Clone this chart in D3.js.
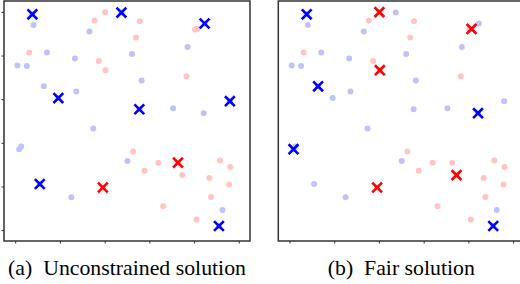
<!DOCTYPE html>
<html>
<head>
<meta charset="utf-8">
<script src="https://d3js.org/d3.v7.min.js"></script>
<style>
  body { margin: 0; background: #fff; }
</style>
</head>
<body>
<svg width="520" height="284"></svg>
<script>
// group A (blue) points, [x, y] in the unit square
var blueX = [0.082, 0.475, 0.332, 0.142, 0.522, 0.267, 0.010, 0.052, 0.128, 0.193, 0.273, 0.847, 0.771, 0.565,
             0.960, 0.555, 0.706, 0.843, 0.349, 0.018, 0.027, 0.502, 0.110, 0.251, 0.927, 0.911, 0.077];
var blueY = [0.940, 0.997, 0.910, 0.814, 0.807, 0.786, 0.754, 0.752, 0.659, 0.605, 0.635, 0.947, 0.839, 0.686,
             0.591, 0.554, 0.558, 0.536, 0.466, 0.371, 0.383, 0.317, 0.211, 0.151, 0.092, 0.019, 0.989];
// group B (red) points
var redX = [0.402, 0.355, 0.063, 0.374, 0.404, 0.557, 0.540, 0.804, 0.814, 0.766, 0.527, 0.640, 0.728, 0.578,
            0.747, 0.916, 0.962, 0.868, 0.957, 0.876, 0.662, 0.811, 0.392];
var redY = [0.999, 0.961, 0.814, 0.775, 0.733, 0.957, 0.883, 0.919, 0.922, 0.705, 0.360, 0.309, 0.309, 0.272,
            0.252, 0.319, 0.289, 0.239, 0.209, 0.152, 0.109, 0.048, 0.195];

// chosen centres, as indices into the point lists
var centersA = { blue: [26, 1, 11, 9, 14, 15, 22, 25], red: [12, 22] };
var centersB = { blue: [26, 8, 19, 17, 25], red: [0, 4, 8, 14, 22] };

var captions = ["(a)  Unconstrained solution", "(b)  Fair solution"];
var ticks = [0, 0.2, 0.4, 0.6, 0.8, 1.0];

var blue = blueX.map(function(x, i) { return [x, blueY[i]]; });
var red = redX.map(function(x, i) { return [x, redY[i]]; });

var svg = d3.select("svg");
svg.append("rect").attr("width", 520).attr("height", 284).attr("fill", "#fff");

var panelW = 246, panelH = 240, panelTop = 1;
var lefts = [4, 278.3];

function drawPanel(left, centers, caption, showY) {
  var x = d3.scaleLinear().domain([-0.05, 1.05]).range([left, left + panelW]);
  var y = d3.scaleLinear().domain([-0.05, 1.05]).range([panelTop + panelH, panelTop]);
  var g = svg.append("g");

  g.selectAll(".pb").data(blue).enter().append("circle")
    .attr("cx", function(d) { return x(d[0]); })
    .attr("cy", function(d) { return y(d[1]); })
    .attr("r", 3)
    .attr("fill", "#c2c2fb");
  g.selectAll(".pr").data(red).enter().append("circle")
    .attr("cx", function(d) { return x(d[0]); })
    .attr("cy", function(d) { return y(d[1]); })
    .attr("r", 3)
    .attr("fill", "#ffc4c4");

  function cross(d) {
    var cx = x(d[0]), cy = y(d[1]), s = 4.9;
    return "M" + (cx - s) + "," + (cy - s) + "L" + (cx + s) + "," + (cy + s) +
           "M" + (cx - s) + "," + (cy + s) + "L" + (cx + s) + "," + (cy - s);
  }
  g.selectAll(".cb").data(centers.blue.map(function(i) { return blue[i]; })).enter().append("path")
    .attr("d", cross).attr("stroke", "#0000ff").attr("stroke-width", 2.6).attr("fill", "none");
  g.selectAll(".cr").data(centers.red.map(function(i) { return red[i]; })).enter().append("path")
    .attr("d", cross).attr("stroke", "#ff0000").attr("stroke-width", 2.6).attr("fill", "none");

  var xa = g.append("g")
    .attr("transform", "translate(0," + (panelTop + panelH) + ")")
    .call(d3.axisBottom(x).tickValues(ticks).tickSize(2.5).tickFormat(""));
  xa.select(".domain").remove();
  xa.selectAll("line").attr("stroke", "#333");
  if (showY) {
    var ya = g.append("g")
      .attr("transform", "translate(" + left + ",0)")
      .call(d3.axisLeft(y).tickValues(ticks).tickSize(2.5).tickFormat(""));
    ya.select(".domain").remove();
    ya.selectAll("line").attr("stroke", "#333");
  }

  g.append("rect")
    .attr("x", left).attr("y", panelTop)
    .attr("width", panelW).attr("height", panelH)
    .attr("fill", "none").attr("stroke", "#333").attr("stroke-width", 1.5);

  svg.append("text")
    .attr("x", left + panelW / 2)
    .attr("y", 274.5)
    .attr("text-anchor", "middle")
    .attr("font-family", "Liberation Serif, DejaVu Serif, serif")
    .attr("font-size", 21.8)
    .style("white-space", "pre")
    .text(caption);
}

drawPanel(lefts[0], centersA, captions[0], true);
drawPanel(lefts[1], centersB, captions[1], false);
</script>
</body>
</html>
